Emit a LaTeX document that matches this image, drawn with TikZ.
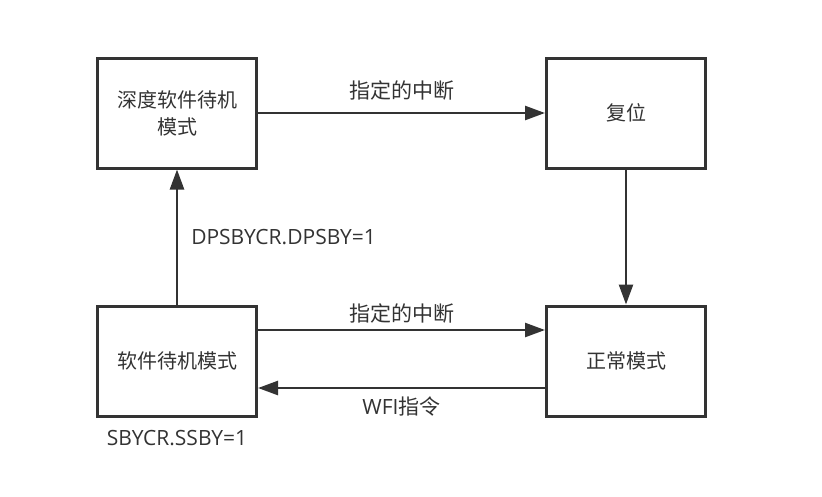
\documentclass[tikz,border=0pt]{standalone}
\usepackage{fontspec}
\setmainfont{Open Sans}
\newfontfamily\cjk{Noto Sans CJK SC}
\usetikzlibrary{arrows.meta, positioning}
\definecolor{ink}{RGB}{51, 51, 51}
\tikzset{
    modebox/.style={rectangle, draw=ink, line width=3pt, minimum width=159pt, minimum height=110pt, text=ink, align=center, font=\cjk\fontsize{20}{27}\selectfont},
    arrow/.style={draw=ink, line width=2.5pt, -{Triangle[length=20pt, width=14pt]}},
    lab/.style={text=ink, inner sep=0pt, font=\fontsize{21}{25}\selectfont},
}

\begin{document}
\begin{tikzpicture}[x=1pt, y=1pt]
\useasboundingbox (0,0) rectangle (822,-496);

% the four modes
\node[modebox] (deep) at (177,-113) {深度软件待机\\模式};
\node[modebox, right=287pt of deep] (reset) {复位};
\node[modebox, below=135pt of deep] (soft) {软件待机模式};
\node[modebox, right=287pt of soft] (normal) {正常模式};

% transitions
\draw[arrow] (deep) -- node[lab, above=11pt] {\cjk 指定的中断} (reset);
\draw[arrow] (reset) -- (normal);
\draw[arrow] (soft) -- node[lab, right=13pt] {DPSBYCR.DPSBY=1} (deep);
\draw[arrow] ([yshift=31pt]soft.east) -- node[lab, above=5pt] {\cjk 指定的中断} ([yshift=31pt]normal.west);
\draw[arrow] ([yshift=-27pt]normal.west) -- node[lab, below=8pt] {WFI{\cjk 指令}} ([yshift=-27pt]soft.east);

\node[lab, below=13pt of soft] (ssby) {SBYCR.SSBY=1};

\end{tikzpicture}
\end{document}
